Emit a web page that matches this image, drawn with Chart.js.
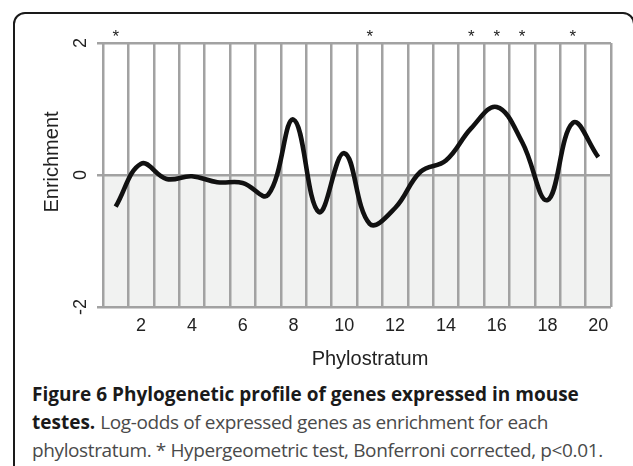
<!DOCTYPE html>
<html>
<head>
<meta charset="utf-8">
<script src="https://cdn.jsdelivr.net/npm/chart.js@4"></script>
<style>
  body { margin: 0; background: #fff; width: 633px; height: 466px; overflow: hidden; position: relative; }
  #frame { position: absolute; left: 13px; top: 12px; width: 622px; height: 470px; border: 2px solid #1a1a1a; border-radius: 12px; box-sizing: border-box; }
  #wrap { position: absolute; left: 0; top: 0; width: 633px; height: 375px; }
  #caption { position: absolute; left: 32px; top: 380px; font-family: "Open Sans", sans-serif; font-size: 19px; line-height: 28px; color: #4a4a4a; white-space: nowrap; }
  #caption b { color: #1a1a1a; }
  #caption span { letter-spacing: -0.38px; }
</style>
</head>
<body>
<div id="frame"></div>
<div id="wrap"><canvas id="chartCanvas" width="633" height="375"></canvas></div>
<div id="caption">
  <b>Figure 6 Phylogenetic profile of genes expressed in mouse</b><br>
  <b>testes.</b> <span>Log-odds of expressed genes as enrichment for each</span><br>
  <span>phylostratum. * Hypergeometric test, Bonferroni corrected, p&lt;0.01.</span>
</div>
<script>
let phylostrata = [1, 2, 3, 4, 5, 6, 7, 8, 9, 10, 11, 12, 13, 14, 15, 16, 17, 18, 19, 20];
let enrichment = [-0.48, 0.17, -0.06, -0.02, -0.11, -0.12, -0.30, 0.84, -0.56, 0.33, -0.74, -0.50, 0.05, 0.22, 0.71, 1.03, 0.50, -0.38, 0.79, 0.27];
let significant = [1, 11, 15, 16, 17, 19];
let yTicks = [-2, 0, 2];

let labelFont = '"Liberation Sans", Arial, sans-serif';

let negativeShade = {
    id: 'negativeShade',
    beforeDraw: function (chart) {
        let area = chart.chartArea;
        let y0 = chart.scales.y.getPixelForValue(0);
        let ctx = chart.ctx;
        ctx.save();
        ctx.fillStyle = '#f1f2f1';
        ctx.fillRect(area.left, y0, area.right - area.left, area.bottom - y0);
        ctx.restore();
    }
};

// rotated y tick labels and axis titles
let axisText = {
    id: 'axisText',
    afterDraw: function (chart) {
        let ctx = chart.ctx;
        let yScale = chart.scales.y;
        let area = chart.chartArea;
        ctx.save();
        ctx.fillStyle = '#222';
        ctx.textAlign = 'center';
        ctx.textBaseline = 'middle';
        ctx.font = '18px ' + labelFont;
        yTicks.forEach(function (v) {
            ctx.save();
            ctx.translate(81, yScale.getPixelForValue(v));
            ctx.rotate(-Math.PI / 2);
            ctx.fillText(String(v), 0, 0);
            ctx.restore();
        });
        ctx.font = '20px ' + labelFont;
        ctx.save();
        ctx.translate(52, (area.top + area.bottom) / 2 - 13);
        ctx.rotate(-Math.PI / 2);
        ctx.fillText('Enrichment', 0, 0);
        ctx.restore();
        ctx.fillText('Phylostratum', (area.left + area.right) / 2 + 13, 359);
        ctx.restore();
    }
};

let starMarks = {
    id: 'starMarks',
    afterDraw: function (chart) {
        let ctx = chart.ctx;
        let xScale = chart.scales.x;
        ctx.save();
        ctx.fillStyle = '#222';
        ctx.font = '17px ' + labelFont;
        ctx.textAlign = 'center';
        ctx.textBaseline = 'alphabetic';
        significant.forEach(function (p) {
            let x = xScale.getPixelForValue(phylostrata.indexOf(p));
            ctx.fillText('*', x, chart.chartArea.top - 1);
        });
        ctx.restore();
    }
};

let ctx = document.getElementById('chartCanvas').getContext('2d');

window.profileChart = new Chart(ctx, {
    type: 'line',
    data: {
        labels: phylostrata,
        datasets: [{
            data: enrichment,
            borderColor: '#111',
            borderWidth: 4.6,
            tension: 0.4,
            pointRadius: 0,
            fill: false
        }]
    },
    options: {
        responsive: false,
        animation: false,
        layout: { padding: { left: 0, top: 43, right: 22, bottom: 0 } },
        plugins: {
            legend: { display: false },
            tooltip: { enabled: false }
        },
        scales: {
            x: {
                offset: true,
                afterFit: function (scale) { scale.height = 68; },
                grid: { offset: true, color: '#a2a2a2', lineWidth: 2.5, drawTicks: false },
                border: { display: false },
                ticks: {
                    autoSkip: false,
                    maxRotation: 0,
                    padding: 8,
                    color: '#222',
                    font: { family: labelFont, size: 18 },
                    callback: function (v, i) {
                        return phylostrata[i] % 2 === 0 ? String(phylostrata[i]) : '';
                    }
                }
            },
            y: {
                min: -2,
                max: 2,
                afterFit: function (scale) { scale.width = 103; },
                afterBuildTicks: function (scale) {
                    scale.ticks = yTicks.map(function (v) { return { value: v }; });
                },
                grid: { color: '#a2a2a2', lineWidth: 2.5, drawTicks: true, tickLength: 6 },
                border: { display: false },
                ticks: { display: false }
            }
        }
    },
    plugins: [negativeShade, axisText, starMarks]
});
</script>
</body>
</html>
